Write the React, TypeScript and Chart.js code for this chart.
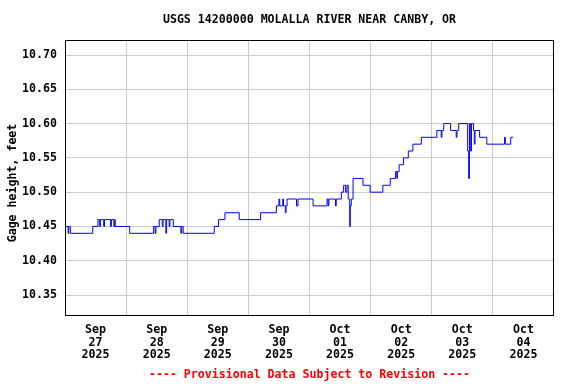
import { useEffect, useRef } from 'react';
import { Chart, registerables } from 'chart.js';

Chart.register(...registerables);

const TITLE = 'USGS 14200000 MOLALLA RIVER NEAR CANBY, OR';
const Y_TITLE = 'Gage height, feet';
const FOOTNOTE = '---- Provisional Data Subject to Revision ----';

// x axis: hours since Sep 27 2025 00:00, one label per day at noon
const DAY_MONTHS = ['Sep', 'Sep', 'Sep', 'Sep', 'Oct', 'Oct', 'Oct', 'Oct'];
const DAY_NUMBERS = ['27', '28', '29', '30', '01', '02', '03', '04'];
const DAY_YEARS = ['2025', '2025', '2025', '2025', '2025', '2025', '2025', '2025'];
const X_MIN_HOURS = 0;
const X_MAX_HOURS = 192;

const Y_TICKS = [10.35, 10.4, 10.45, 10.5, 10.55, 10.6, 10.65, 10.7];
const Y_MIN = 10.3194;
const Y_MAX = 10.7219;

// gage height change points (value holds until the next point)
const HOURS = [
  0, 1.2, 1.5, 2.1, 10.9, 12.9, 13.6, 13.9, 15.2, 15.5, 17.9, 18.2, 19.2, 19.5, 19.7,
  25.4, 34.8, 35.4, 35.7, 37.0, 38.2, 38.5, 39.6, 39.9, 40.9, 41.2, 42.5, 45.5, 45.8, 46.4,
  58.6, 60.3, 62.8, 68.4, 76.8, 83.0, 84.0, 84.3, 85.5, 85.8, 86.5, 86.8, 87.2, 90.9, 91.5,
  97.4, 102.9, 103.3, 103.6, 106.2, 106.5, 108.5, 109.4, 110.2, 110.7, 111.2, 111.8, 112.0, 112.4, 113.1,
  117.0, 119.8, 124.8, 127.7, 129.8, 130.3, 130.5, 131.2, 132.9, 134.8, 136.6, 139.9,
  146.0, 147.7, 148.0, 148.7, 151.4, 153.6, 153.9, 154.6, 158.1, 158.5, 158.8, 159.3, 159.6, 160.4, 160.7, 161.0,
  162.8, 165.6, 172.6, 172.9, 175.0, 175.9,
];
const GAGE_FT = [
  10.45, 10.44, 10.45, 10.44, 10.45, 10.46, 10.45, 10.46, 10.45, 10.46, 10.45, 10.46, 10.45, 10.46, 10.45,
  10.44, 10.45, 10.44, 10.45, 10.46, 10.45, 10.46, 10.44, 10.46, 10.45, 10.46, 10.45, 10.44, 10.45, 10.44,
  10.45, 10.46, 10.47, 10.46, 10.47, 10.48, 10.49, 10.48, 10.49, 10.48, 10.47, 10.48, 10.49, 10.48, 10.49,
  10.48, 10.49, 10.48, 10.49, 10.48, 10.49, 10.5, 10.51, 10.5, 10.51, 10.49, 10.45, 10.48, 10.49, 10.52,
  10.51, 10.5, 10.51, 10.52, 10.53, 10.52, 10.53, 10.54, 10.55, 10.56, 10.57, 10.58,
  10.59, 10.58, 10.59, 10.6, 10.59, 10.58, 10.59, 10.6, 10.56, 10.52, 10.6, 10.56, 10.6, 10.59, 10.57, 10.59,
  10.58, 10.57, 10.58, 10.57, 10.58, 10.58,
];

const FONT_FAMILY = '"DejaVu Sans Mono", monospace';
const FONT_SIZE = 11.6;

const decorPlugin = {
  id: 'decor',
  afterDraw(chart: any) {
    const { ctx, chartArea: a } = chart;
    ctx.save();
    ctx.strokeStyle = '#000000';
    ctx.lineWidth = 1;
    ctx.strokeRect(a.left + 0.5, a.top + 0.5, a.right - a.left - 1, a.bottom - a.top - 1);
    const cx = (a.left + a.right) / 2;
    ctx.font = `bold ${FONT_SIZE}px ${FONT_FAMILY}`;
    ctx.textAlign = 'center';
    ctx.textBaseline = 'middle';
    ctx.fillStyle = '#000000';
    ctx.fillText(TITLE, cx, 20);
    ctx.fillStyle = '#ff0000';
    ctx.fillText(FOOTNOTE, cx, 375);
    ctx.fillStyle = '#000000';
    ctx.translate(13, 183);
    ctx.rotate(-Math.PI / 2);
    ctx.fillText(Y_TITLE, 0, 0);
    ctx.restore();
  },
};

export default function App() {
  const canvasRef = useRef<HTMLCanvasElement | null>(null);

  useEffect(() => {
    const canvas = canvasRef.current;
    if (!canvas) return;
    const points = HOURS.map((h, i) => ({ x: h, y: GAGE_FT[i] }));
    const chart = new Chart(canvas, {
      type: 'line',
      data: {
        datasets: [
          {
            data: points,
            borderColor: '#0000ff',
            borderWidth: 1,
            pointRadius: 0,
            stepped: true,
            tension: 0,
            fill: false,
          },
        ],
      },
      options: {
        animation: false,
        responsive: false,
        maintainAspectRatio: false,
        layout: { padding: { top: 40, right: 22, left: 0, bottom: 0 } },
        plugins: {
          legend: { display: false },
          title: { display: false },
          tooltip: { enabled: false },
        },
        scales: {
          x: {
            type: 'linear',
            min: X_MIN_HOURS,
            max: X_MAX_HOURS,
            border: { display: false },
            afterBuildTicks(scale: any) {
              const t = [];
              for (let h = X_MIN_HOURS; h <= X_MAX_HOURS; h += 12) t.push({ value: h });
              scale.ticks = t;
            },
            afterFit(scale: any) {
              scale.height = 68;
            },
            grid: {
              drawTicks: false,
              color: (ctx: any) => {
                const v = ctx.tick ? ctx.tick.value : 0;
                return v % 24 === 0 && v > X_MIN_HOURS && v < X_MAX_HOURS ? '#cccccc' : 'rgba(0,0,0,0)';
              },
              lineWidth: 1,
            },
            ticks: {
              autoSkip: false,
              maxRotation: 0,
              minRotation: 0,
              padding: 7,
              color: '#000000',
              font: { family: FONT_FAMILY, size: FONT_SIZE, weight: 'bold', lineHeight: 1.12 },
              callback: (value: any) => {
                const v = Number(value);
                if (v % 24 !== 12) return '';
                const i = (v - 12) / 24;
                return [DAY_MONTHS[i], DAY_NUMBERS[i], DAY_YEARS[i]];
              },
            },
          },
          y: {
            type: 'linear',
            min: Y_MIN,
            max: Y_MAX,
            border: { display: false },
            afterBuildTicks(scale: any) {
              scale.ticks = Y_TICKS.map((v) => ({ value: v }));
            },
            afterFit(scale: any) {
              scale.width = 65;
            },
            grid: {
              drawTicks: false,
              color: '#cccccc',
              lineWidth: 1,
            },
            ticks: {
              padding: 8,
              color: '#000000',
              font: { family: FONT_FAMILY, size: FONT_SIZE, weight: 'bold' },
              callback: (value: any) => Number(value).toFixed(2),
            },
          },
        },
      },
      plugins: [decorPlugin],
    });
    return () => chart.destroy();
  }, []);

  return (
    <div style={{ position: 'absolute', left: 0, top: 0, width: 576, height: 384, background: '#ffffff' }}>
      <canvas ref={canvasRef} width={576} height={384} style={{ width: 576, height: 384 }} />
    </div>
  );
}
